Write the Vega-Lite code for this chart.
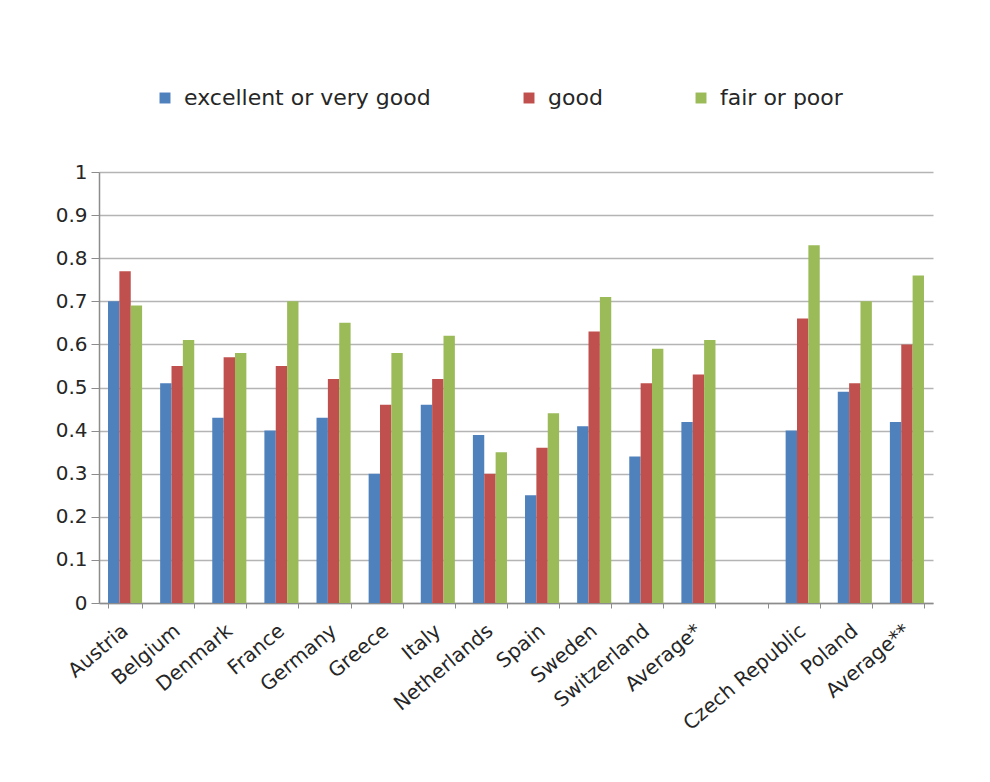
{
  "$schema": "https://vega.github.io/schema/vega-lite/v6.json",
  "width": 834,
  "height": 431,
  "autosize": {"type": "none"},
  "padding": {"left": 99, "top": 172, "right": 57, "bottom": 179},
  "background": "white",
  "config": {
    "font": "DejaVu Sans",
    "view": {"stroke": null},
    "axis": {"labelColor": "#262626", "titleColor": "#262626"}
  },
  "data": {
    "values": [
      {"country": "Austria", "rating": "excellent or very good", "share": 0.70},
      {"country": "Austria", "rating": "good", "share": 0.77},
      {"country": "Austria", "rating": "fair or poor", "share": 0.69},
      {"country": "Belgium", "rating": "excellent or very good", "share": 0.51},
      {"country": "Belgium", "rating": "good", "share": 0.55},
      {"country": "Belgium", "rating": "fair or poor", "share": 0.61},
      {"country": "Denmark", "rating": "excellent or very good", "share": 0.43},
      {"country": "Denmark", "rating": "good", "share": 0.57},
      {"country": "Denmark", "rating": "fair or poor", "share": 0.58},
      {"country": "France", "rating": "excellent or very good", "share": 0.40},
      {"country": "France", "rating": "good", "share": 0.55},
      {"country": "France", "rating": "fair or poor", "share": 0.70},
      {"country": "Germany", "rating": "excellent or very good", "share": 0.43},
      {"country": "Germany", "rating": "good", "share": 0.52},
      {"country": "Germany", "rating": "fair or poor", "share": 0.65},
      {"country": "Greece", "rating": "excellent or very good", "share": 0.30},
      {"country": "Greece", "rating": "good", "share": 0.46},
      {"country": "Greece", "rating": "fair or poor", "share": 0.58},
      {"country": "Italy", "rating": "excellent or very good", "share": 0.46},
      {"country": "Italy", "rating": "good", "share": 0.52},
      {"country": "Italy", "rating": "fair or poor", "share": 0.62},
      {"country": "Netherlands", "rating": "excellent or very good", "share": 0.39},
      {"country": "Netherlands", "rating": "good", "share": 0.30},
      {"country": "Netherlands", "rating": "fair or poor", "share": 0.35},
      {"country": "Spain", "rating": "excellent or very good", "share": 0.25},
      {"country": "Spain", "rating": "good", "share": 0.36},
      {"country": "Spain", "rating": "fair or poor", "share": 0.44},
      {"country": "Sweden", "rating": "excellent or very good", "share": 0.41},
      {"country": "Sweden", "rating": "good", "share": 0.63},
      {"country": "Sweden", "rating": "fair or poor", "share": 0.71},
      {"country": "Switzerland", "rating": "excellent or very good", "share": 0.34},
      {"country": "Switzerland", "rating": "good", "share": 0.51},
      {"country": "Switzerland", "rating": "fair or poor", "share": 0.59},
      {"country": "Average*", "rating": "excellent or very good", "share": 0.42},
      {"country": "Average*", "rating": "good", "share": 0.53},
      {"country": "Average*", "rating": "fair or poor", "share": 0.61},
      {"country": "Czech Republic", "rating": "excellent or very good", "share": 0.40},
      {"country": "Czech Republic", "rating": "good", "share": 0.66},
      {"country": "Czech Republic", "rating": "fair or poor", "share": 0.83},
      {"country": "Poland", "rating": "excellent or very good", "share": 0.49},
      {"country": "Poland", "rating": "good", "share": 0.51},
      {"country": "Poland", "rating": "fair or poor", "share": 0.70},
      {"country": "Average**", "rating": "excellent or very good", "share": 0.42},
      {"country": "Average**", "rating": "good", "share": 0.60},
      {"country": "Average**", "rating": "fair or poor", "share": 0.76}
    ]
  },
  "mark": {"type": "bar"},
  "encoding": {
    "x": {
      "field": "country",
      "type": "nominal",
      "scale": {
        "domain": ["Austria", "Belgium", "Denmark", "France", "Germany", "Greece", "Italy", "Netherlands", "Spain", "Sweden", "Switzerland", "Average*", " ", "Czech Republic", "Poland", "Average**"],
        "paddingInner": 0.346,
        "paddingOuter": 0.173
      },
      "axis": {
        "title": null,
        "labelAngle": -40,
        "labelAlign": "right",
        "labelBaseline": "middle",
        "labelFontSize": 20,
        "labelPadding": 20,
        "tickBand": "extent",
        "tickSize": 5,
        "tickColor": "#8c8c8c",
        "domainColor": "#8c8c8c",
        "domainWidth": 1.5,
        "grid": false
      }
    },
    "xOffset": {
      "field": "rating",
      "type": "nominal",
      "sort": ["excellent or very good", "good", "fair or poor"]
    },
    "y": {
      "field": "share",
      "type": "quantitative",
      "scale": {"domain": [0, 1], "nice": false},
      "axis": {
        "title": null,
        "values": [0, 0.1, 0.2, 0.3, 0.4, 0.5, 0.6, 0.7, 0.8, 0.9, 1],
        "format": "~g",
        "labelFontSize": 20,
        "labelPadding": 4,
        "tickSize": 8,
        "tickColor": "#8c8c8c",
        "domainColor": "#8c8c8c",
        "domainWidth": 1.5,
        "gridColor": "#b4b4b4",
        "gridWidth": 1.5
      }
    },
    "color": {
      "field": "rating",
      "type": "nominal",
      "sort": ["excellent or very good", "good", "fair or poor"],
      "scale": {
        "domain": ["excellent or very good", "good", "fair or poor"],
        "range": ["#4F81BD", "#C0504D", "#9BBB59"]
      },
      "legend": {
        "title": null,
        "orient": "none",
        "direction": "horizontal",
        "legendX": 55,
        "legendY": -85,
        "padding": 0,
        "symbolType": "square",
        "symbolSize": 120,
        "symbolStrokeWidth": 0,
        "labelFontSize": 22,
        "labelColor": "#262626",
        "labelOffset": 8,
        "columnPadding": 87,
        "labelLimit": 400
      }
    }
  }
}
